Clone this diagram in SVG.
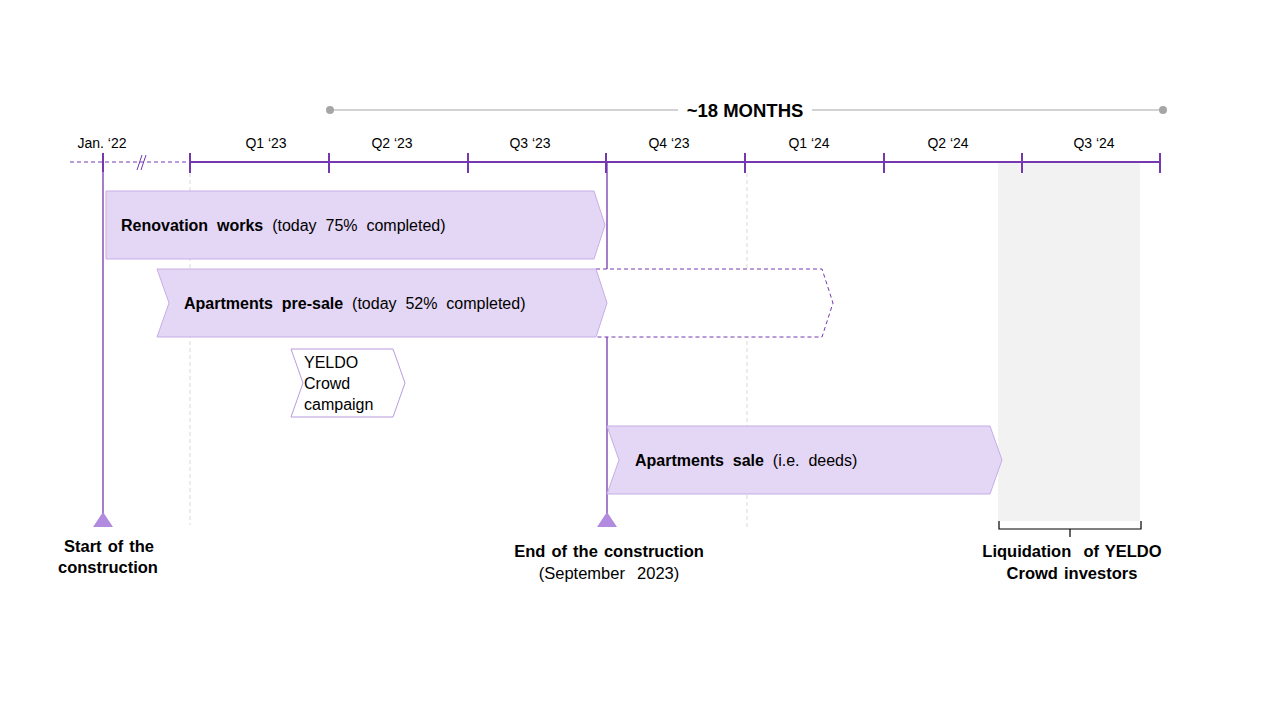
<svg xmlns="http://www.w3.org/2000/svg" width="1280" height="720" viewBox="0 0 1280 720">
<style>
text{font-family:"Liberation Sans",Arial,sans-serif;fill:#000}
.q{font-size:14px;text-anchor:middle}
.b{font-weight:bold}
.lbl{font-size:16px}
.ms{font-size:16.5px;word-spacing:1.5px}
.bar{fill:#E4D6F5;stroke:#C7ADE6;stroke-width:1}
.axis{stroke:#7438B0;stroke-width:2;fill:none}
.tick{stroke:#7438B0;stroke-width:2}
.gdash{stroke:#D9D9D9;stroke-width:1;stroke-dasharray:4 3}
.tri{fill:#B28BE0}
</style>
<rect width="1280" height="720" fill="#fff"/>
<g id="liquidation-zone">
<rect x="998" y="163" width="142" height="358" fill="#F2F2F2"/>
<path d="M999 521 V529 H1141 V521 M1070 529 V537" stroke="#000" stroke-width="1.2" fill="none"/>
</g>
<g id="gridlines">
<line x1="190" y1="173" x2="190" y2="525" class="gdash"/>
<line x1="747" y1="173" x2="747" y2="530" class="gdash"/>
</g>
<g id="duration">
<line x1="330" y1="110" x2="1163" y2="110" stroke="#A6A6A6" stroke-width="1.2"/>
<circle cx="330" cy="110" r="4" fill="#A6A6A6"/>
<circle cx="1163" cy="110" r="4" fill="#A6A6A6"/>
<rect x="678" y="98" width="134" height="24" fill="#fff"/>
<text x="745" y="117" text-anchor="middle" class="b" font-size="18.5">~18 MONTHS</text>
</g>
<g id="timeline">
<line x1="70" y1="162" x2="190" y2="162" stroke="#7438B0" stroke-width="1" stroke-dasharray="4 3"/>
<line x1="137" y1="170" x2="142" y2="155" stroke="#7438B0" stroke-width="1"/>
<line x1="141" y1="170" x2="146" y2="155" stroke="#7438B0" stroke-width="1"/>
<line x1="190" y1="162" x2="1160" y2="162" class="axis"/>
<line x1="103" y1="153" x2="103" y2="172" class="tick"/>
<line x1="190" y1="153" x2="190" y2="173" class="tick"/>
<line x1="329" y1="153" x2="329" y2="173" class="tick"/>
<line x1="468" y1="153" x2="468" y2="173" class="tick"/>
<line x1="606" y1="153" x2="606" y2="173" class="tick"/>
<line x1="745" y1="153" x2="745" y2="173" class="tick"/>
<line x1="884" y1="153" x2="884" y2="173" class="tick"/>
<line x1="1022" y1="153" x2="1022" y2="173" class="tick"/>
<line x1="1160" y1="153" x2="1160" y2="173" class="tick"/>
<text x="102" y="148" class="q">Jan. ‘22</text>
<text x="266" y="148" class="q">Q1 ‘23</text>
<text x="392" y="148" class="q">Q2 ‘23</text>
<text x="530" y="148" class="q">Q3 ‘23</text>
<text x="669" y="148" class="q">Q4 ‘23</text>
<text x="809" y="148" class="q">Q1 ‘24</text>
<text x="948" y="148" class="q">Q2 ‘24</text>
<text x="1094" y="148" class="q">Q3 ‘24</text>
</g>
<g id="milestone-lines">
<line x1="103" y1="162" x2="103" y2="515" stroke="#7438B0" stroke-width="1.3"/>
<line x1="607" y1="162" x2="607" y2="515" stroke="#7438B0" stroke-width="1.3"/>
</g>
<g id="renovation">
<path class="bar" d="M106 191 H594 L605 225 L594 259 H106 Z"/>
<text x="121" y="231" class="lbl" xml:space="preserve"><tspan class="b">Renovation  works</tspan>  (today  75%  completed)</text>
</g>
<g id="presale">
<path d="M596 269 H822 L833 303 L822 337 H596" fill="#fff" stroke="#7438B0" stroke-width="1" stroke-dasharray="4 3"/>
<path class="bar" d="M157 269 H596 L607 303 L596 337 H157 L169 303 Z"/>
<text x="184" y="309" class="lbl" xml:space="preserve"><tspan class="b">Apartments  pre-sale</tspan>  (today  52%  completed)</text>
</g>
<g id="campaign">
<path d="M291 349 H393 L405 383 L393 417 H291 L303 383 Z" fill="#fff" stroke="#B99BE0" stroke-width="1"/>
<text x="304" y="368" font-size="16">YELDO</text>
<text x="304" y="389" font-size="16">Crowd</text>
<text x="304" y="410" font-size="16">campaign</text>
</g>
<g id="sale">
<path class="bar" d="M607 426 H990 L1002 460 L990 494 H607 L619 460 Z"/>
<text x="635" y="466" class="lbl" xml:space="preserve"><tspan class="b">Apartments  sale</tspan>  (i.e.  deeds)</text>
</g>
<g id="start">
<path class="tri" d="M103 512 L113 527 H93 Z"/>
<text x="109" y="552" text-anchor="middle" class="b ms">Start of the</text>
<text x="108" y="573" text-anchor="middle" class="b ms">construction</text>
</g>
<g id="end">
<path class="tri" d="M607 512 L617 527 H597 Z"/>
<text x="609" y="557" text-anchor="middle" class="b ms">End of the construction</text>
<text x="609" y="579" text-anchor="middle" class="ms" xml:space="preserve">(September  2023)</text>
</g>
<g id="liquidation">
<text x="1072" y="557" text-anchor="middle" class="b ms" xml:space="preserve">Liquidation  of YELDO</text>
<text x="1072" y="579" text-anchor="middle" class="b ms">Crowd investors</text>
</g>
</svg>
